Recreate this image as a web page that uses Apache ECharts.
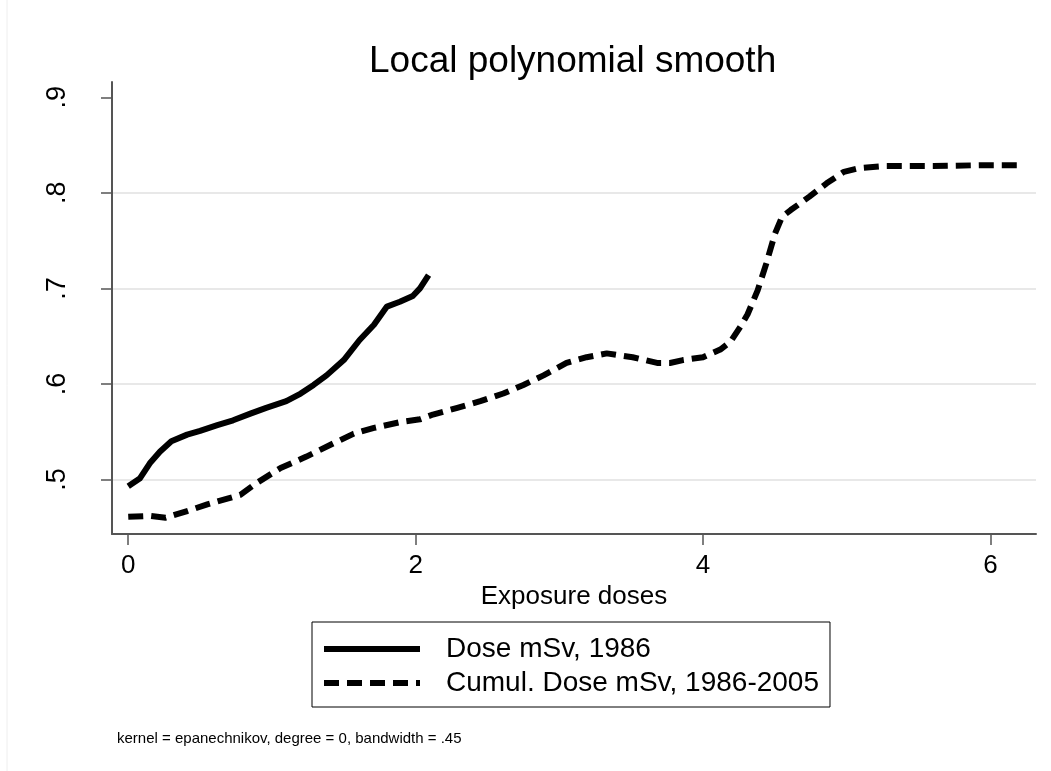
<!DOCTYPE html>
<html>
<head>
<meta charset="utf-8">
<title>Local polynomial smooth</title>
<script src="https://cdn.jsdelivr.net/npm/echarts@6/dist/echarts.min.js"></script>
<style>
  html, body { margin: 0; padding: 0; background: #fff; }
  #chart { width: 1051px; height: 771px; }
</style>
</head>
<body>
<div id="chart"></div>
<script>
// Dose mSv, 1986 (solid line)
const doseX = [0.0, 0.08, 0.15, 0.22, 0.30, 0.41, 0.50, 0.62, 0.73, 0.85, 0.96, 1.10,
  1.20, 1.29, 1.38, 1.50, 1.61, 1.71, 1.80, 1.89, 1.98, 2.03, 2.09]
const doseY = [0.493, 0.501, 0.517, 0.529, 0.540, 0.547, 0.551, 0.557, 0.562, 0.569, 0.575, 0.582,
  0.590, 0.599, 0.609, 0.625, 0.646, 0.662, 0.681, 0.686, 0.692, 0.700, 0.714]

// Cumul. Dose mSv, 1986-2005 (dashed line)
const cumulX = [0.0, 0.15, 0.26, 0.41, 0.55, 0.69, 0.78, 0.89, 1.06, 1.24, 1.43, 1.57, 1.71, 1.89,
  2.03, 2.12, 2.29, 2.45, 2.61, 2.75, 2.89, 3.05, 3.19, 3.33, 3.51, 3.68, 3.77, 3.86, 4.00,
  4.12, 4.19, 4.26, 4.31, 4.38, 4.44, 4.50, 4.55, 4.61, 4.74, 4.86, 4.98, 5.09, 5.25, 5.60,
  5.95, 6.19]
const cumulY = [0.461, 0.462, 0.460, 0.467, 0.474, 0.480, 0.484, 0.496, 0.512, 0.524, 0.538, 0.548,
  0.554, 0.560, 0.563, 0.568, 0.575, 0.582, 0.590, 0.599, 0.609, 0.622, 0.628, 0.632, 0.628,
  0.622, 0.622, 0.625, 0.628, 0.636, 0.644, 0.660, 0.673, 0.698, 0.726, 0.757, 0.775, 0.782,
  0.796, 0.810, 0.822, 0.826, 0.828, 0.828, 0.829, 0.829]

const seriesNames = ['Dose mSv, 1986', 'Cumul. Dose mSv, 1986-2005']
const xTicks = [0, 2, 4, 6]
const yTicks = [0.5, 0.6, 0.7, 0.8, 0.9]
const yGrid = [0.5, 0.6, 0.7, 0.8]
const noteText = 'kernel = epanechnikov, degree = 0, bandwidth = .45'

const FONT = '"Liberation Sans", Arial, Helvetica, sans-serif'
const AXIS_COLOR = '#555'
const LINE_W = 6
const DASH = [15, 8]

function pairs(xs, ys) {
  return xs.map((x, i) => [x, ys[i]])
}

const chart = echarts.init(document.getElementById('chart'), null, { renderer: 'canvas' })

chart.setOption({
  animation: false,
  backgroundColor: '#fff',
  textStyle: { fontFamily: FONT, color: '#000' },
  title: {
    text: 'Local polynomial smooth',
    left: 369,
    top: 43,
    padding: 0,
    textStyle: { fontFamily: FONT, fontSize: 37, fontWeight: 'normal', color: '#000' }
  },
  grid: { left: 112, right: 15, top: 82, bottom: 237, containLabel: false },
  xAxis: {
    type: 'value',
    min: -0.113,
    max: 6.317,
    name: 'Exposure doses',
    nameLocation: 'middle',
    nameGap: 42,
    nameTextStyle: { fontFamily: FONT, fontSize: 26, color: '#000' },
    axisLine: { show: true, onZero: false, lineStyle: { color: AXIS_COLOR, width: 2 } },
    axisTick: { show: true, length: 11, customValues: xTicks, lineStyle: { color: AXIS_COLOR, width: 1.5 } },
    axisLabel: { customValues: xTicks, margin: 19, fontFamily: FONT, fontSize: 26, color: '#000' },
    splitLine: { show: false }
  },
  yAxis: [
    {
      type: 'value',
      min: 0.443,
      max: 0.916,
      axisLine: { show: true, onZero: false, lineStyle: { color: AXIS_COLOR, width: 2 } },
      axisTick: { show: true, length: 11, customValues: yTicks, lineStyle: { color: AXIS_COLOR, width: 1.5 } },
      axisLabel: {
        customValues: yTicks,
        rotate: 90,
        margin: 41,
        fontFamily: FONT,
        fontSize: 27,
        color: '#000',
        formatter: v => v.toFixed(1).replace(/^0/, '')
      },
      splitLine: { show: false }
    },
    {
      // helper axis for the light grid lines (.5 - .8 only)
      type: 'value',
      min: 0.443,
      max: 0.916,
      axisLine: { show: false, onZero: false },
      axisTick: { show: false, customValues: yGrid },
      axisLabel: { show: false, customValues: yGrid },
      splitLine: { show: true, lineStyle: { color: '#e8e8e8', width: 2 } }
    }
  ],
  legend: {
    orient: 'vertical',
    left: 312,
    top: 622,
    padding: [13, 11, 10, 9],
    itemWidth: 96,
    itemHeight: 26,
    itemGap: 6,
    borderColor: '#000',
    borderWidth: 1,
    borderRadius: 0,
    itemStyle: { opacity: 0 },
    textStyle: { fontFamily: FONT, fontSize: 28, color: '#000', padding: [0, 0, 0, 21] },
    data: [
      { name: seriesNames[0], lineStyle: { width: LINE_W, color: '#000', type: 'solid' } },
      { name: seriesNames[1], lineStyle: { width: LINE_W, color: '#000', type: DASH } }
    ]
  },
  graphic: [
    {
      type: 'text',
      left: 117,
      top: 731,
      style: { text: noteText, font: '15px ' + FONT, fill: '#000' }
    },
    {
      type: 'line',
      shape: { x1: 7, y1: 0, x2: 7, y2: 771 },
      style: { stroke: '#eeeeee', lineWidth: 1 }
    }
  ],
  series: [
    {
      name: seriesNames[0],
      type: 'line',
      data: pairs(doseX, doseY),
      showSymbol: false,
      symbol: 'none',
      smooth: false,
      lineStyle: { color: '#000', width: LINE_W, type: 'solid', join: 'round' },
      itemStyle: { color: '#000' }
    },
    {
      name: seriesNames[1],
      type: 'line',
      data: pairs(cumulX, cumulY),
      showSymbol: false,
      symbol: 'none',
      smooth: false,
      lineStyle: { color: '#000', width: LINE_W, type: DASH, join: 'round' },
      itemStyle: { color: '#000' }
    }
  ]
})
</script>
</body>
</html>
